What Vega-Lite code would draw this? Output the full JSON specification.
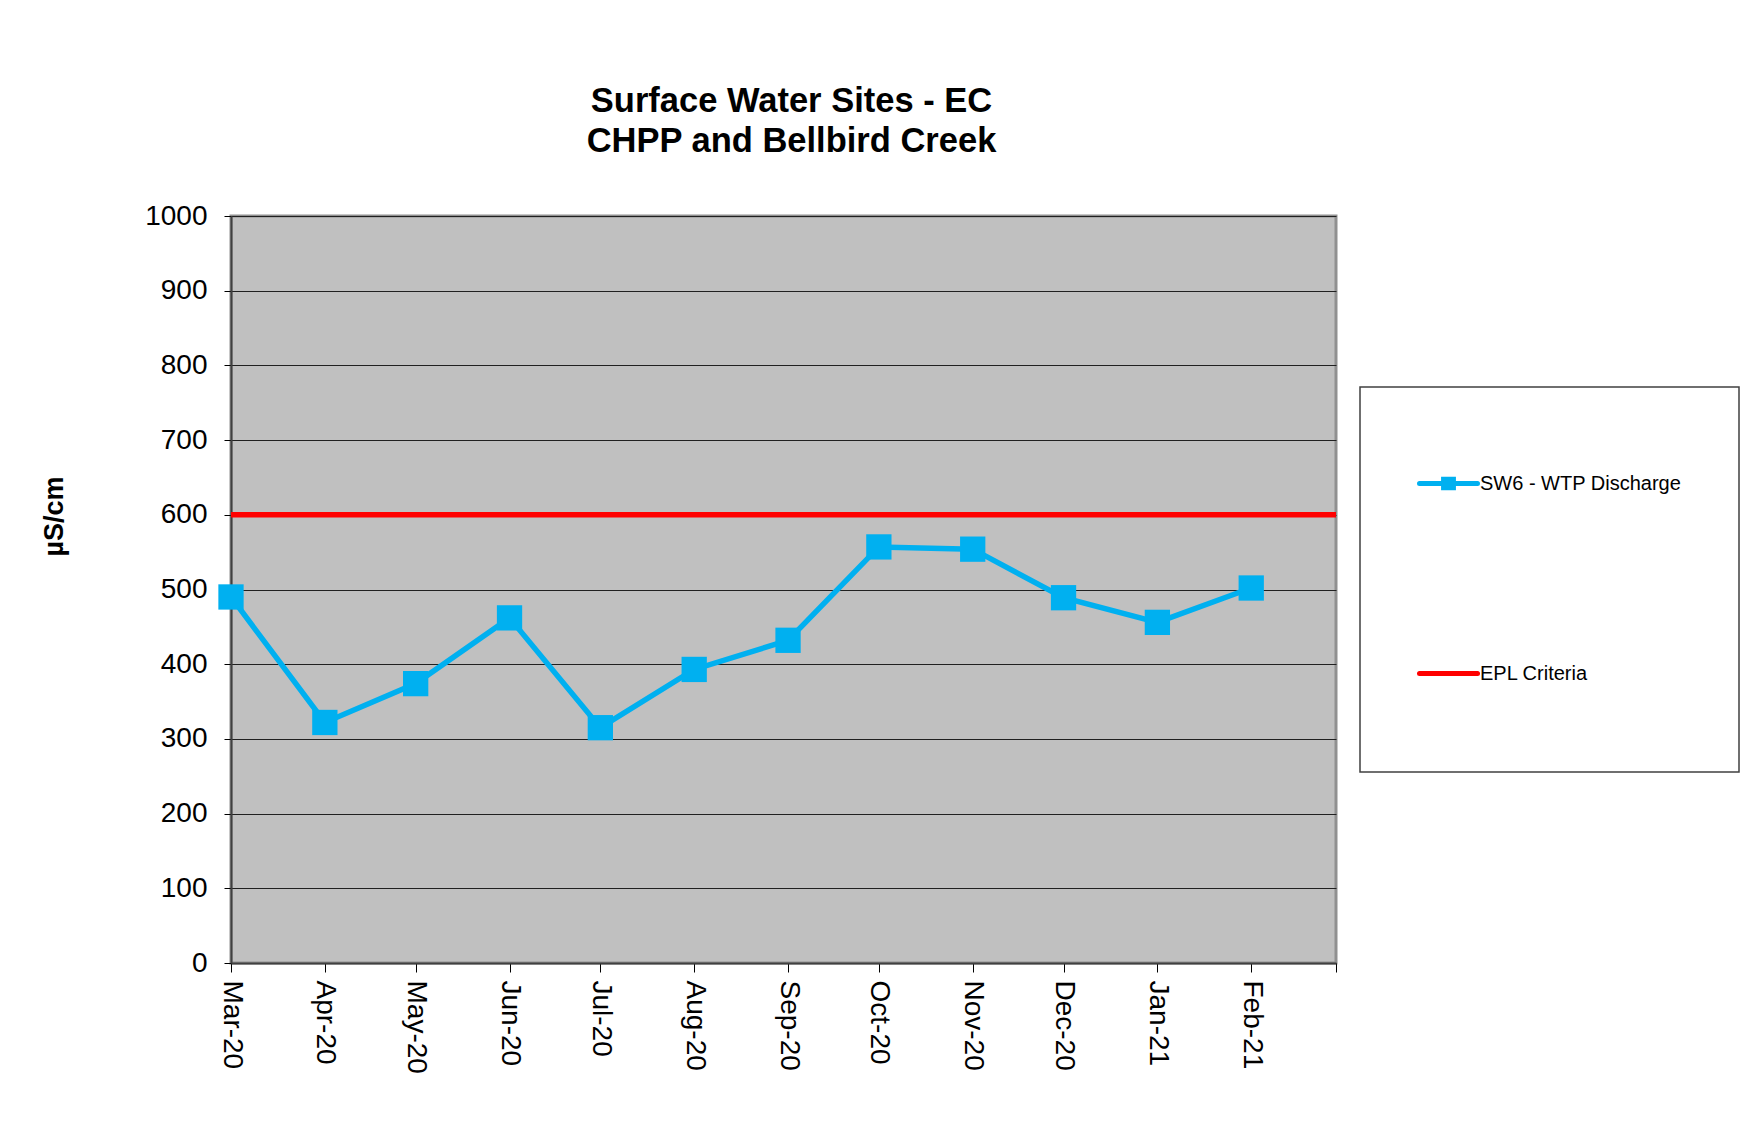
{
  "$schema": "https://vega.github.io/schema/vega-lite/v6.json",
  "width": 1105,
  "height": 747,
  "autosize": "none",
  "padding": {"left": 231, "top": 216, "right": 409, "bottom": 166},
  "background": "white",
  "title": {
    "text": ["Surface Water Sites - EC", "CHPP and Bellbird Creek"],
    "font": "Liberation Sans",
    "fontSize": 34.5,
    "fontWeight": "bold",
    "color": "#000000",
    "anchor": "middle",
    "lineHeight": 40,
    "offset": 43,
    "dx": 8
  },
  "datasets": {
    "ec": [
      {"date": "2020-03-01", "series": "SW6 - WTP Discharge", "value": 490},
      {"date": "2020-04-01", "series": "SW6 - WTP Discharge", "value": 322},
      {"date": "2020-05-01", "series": "SW6 - WTP Discharge", "value": 374},
      {"date": "2020-06-01", "series": "SW6 - WTP Discharge", "value": 462},
      {"date": "2020-07-01", "series": "SW6 - WTP Discharge", "value": 315},
      {"date": "2020-08-01", "series": "SW6 - WTP Discharge", "value": 393},
      {"date": "2020-09-01", "series": "SW6 - WTP Discharge", "value": 432},
      {"date": "2020-10-01", "series": "SW6 - WTP Discharge", "value": 557},
      {"date": "2020-11-01", "series": "SW6 - WTP Discharge", "value": 554},
      {"date": "2020-12-01", "series": "SW6 - WTP Discharge", "value": 489},
      {"date": "2021-01-01", "series": "SW6 - WTP Discharge", "value": 456},
      {"date": "2021-02-01", "series": "SW6 - WTP Discharge", "value": 502}
    ],
    "epl": [
      {"series": "EPL Criteria", "value": 600}
    ]
  },
  "config": {
    "view": {"fill": "#C0C0C0", "stroke": "#909090", "strokeWidth": 3},
    "axis": {
      "labelFont": "Liberation Sans",
      "labelFontSize": 28,
      "labelColor": "#000000",
      "titleFont": "Liberation Sans",
      "titleColor": "#000000"
    }
  },
  "layer": [
    {
      "data": {"name": "ec"},
      "mark": {
        "type": "line",
        "strokeWidth": 5.5,
        "point": {"shape": "square", "size": 640, "filled": true, "opacity": 1}
      },
      "encoding": {
        "x": {
          "field": "date",
          "type": "temporal",
          "scale": {
            "type": "utc",
            "domain": [
              {"year": 2020, "month": 3, "date": 1, "utc": true},
              {"year": 2021, "month": 3, "date": 1, "utc": true}
            ]
          },
          "axis": {
            "title": null,
            "grid": false,
            "values": [
              {"year": 2020, "month": 3, "date": 1, "utc": true},
              {"year": 2020, "month": 4, "date": 1, "utc": true},
              {"year": 2020, "month": 5, "date": 1, "utc": true},
              {"year": 2020, "month": 6, "date": 1, "utc": true},
              {"year": 2020, "month": 7, "date": 1, "utc": true},
              {"year": 2020, "month": 8, "date": 1, "utc": true},
              {"year": 2020, "month": 9, "date": 1, "utc": true},
              {"year": 2020, "month": 10, "date": 1, "utc": true},
              {"year": 2020, "month": 11, "date": 1, "utc": true},
              {"year": 2020, "month": 12, "date": 1, "utc": true},
              {"year": 2021, "month": 1, "date": 1, "utc": true},
              {"year": 2021, "month": 2, "date": 1, "utc": true},
              {"year": 2021, "month": 3, "date": 1, "utc": true}
            ],
            "labelExpr": "datum.value >= 1614556800000 ? '' : utcFormat(datum.value, '%b-%y')",
            "labelAngle": 90,
            "labelAlign": "left",
            "labelBaseline": "middle",
            "labelPadding": 8,
            "labelOverlap": false,
            "labelBound": false,
            "labelFlush": false,
            "tickSize": 9,
            "tickColor": "#000000",
            "tickWidth": 1,
            "domainColor": "#404040",
            "domainWidth": 2
          }
        },
        "y": {
          "field": "value",
          "type": "quantitative",
          "scale": {"domain": [0, 1000], "nice": false, "zero": true},
          "axis": {
            "values": [0, 100, 200, 300, 400, 500, 600, 700, 800, 900, 1000],
            "format": "d",
            "title": "µS/cm",
            "titleFontSize": 27,
            "titleFontWeight": "bold",
            "titleAngle": 270,
            "titleAlign": "center",
            "titleBaseline": "middle",
            "titleX": -177,
            "titleY": 300,
            "labelPadding": 17,
            "tickSize": 7,
            "tickColor": "#000000",
            "domainColor": "#404040",
            "domainWidth": 2,
            "grid": true,
            "gridColor": "#202020",
            "gridWidth": 1.2
          }
        },
        "color": {
          "field": "series",
          "type": "nominal",
          "scale": {
            "domain": ["SW6 - WTP Discharge", "EPL Criteria"],
            "range": ["#00B0F0", "#FF0000"]
          },
          "legend": {
            "title": " ",
            "titleFontSize": 1,
            "titlePadding": 7,
            "orient": "none",
            "legendX": 1129,
            "legendY": 171,
            "direction": "vertical",
            "padding": 57,
            "strokeColor": "#404040",
            "fillColor": "#FFFFFF",
            "labelFont": "Liberation Sans",
            "labelFontSize": 20,
            "labelColor": "#000000",
            "labelOffset": 0,
            "labelLimit": 400,
            "rowPadding": 144,
            "symbolSize": 3364,
            "symbolStrokeWidth": 5,
            "symbolType": "M-1,0L1,0",
            "encode": {
              "legend": {
                "update": {
                  "strokeWidth": {"value": 1.5}
                }
              },
              "symbols": {
                "update": {
                  "shape": {"signal": "datum.value == 'EPL Criteria' ? 'M-1,0L1,0M0,1.07' : 'M-1,0L1,0M-0.17,-0.15h0.34v0.3h-0.34z'"},
                  "fill": {"signal": "datum.value == 'EPL Criteria' ? '#FF0000' : '#00B0F0'"},
                  "stroke": {"signal": "datum.value == 'EPL Criteria' ? '#FF0000' : '#00B0F0'"},
                  "strokeWidth": {"value": 5},
                  "strokeCap": {"value": "round"},
                  "opacity": {"value": 1},
                  "fillOpacity": {"value": 1}
                }
              }
            }
          }
        }
      }
    },
    {
      "data": {"name": "epl"},
      "mark": {"type": "rule", "strokeWidth": 5.5},
      "encoding": {
        "y": {"field": "value", "type": "quantitative"},
        "color": {"field": "series", "type": "nominal"}
      }
    }
  ]
}
